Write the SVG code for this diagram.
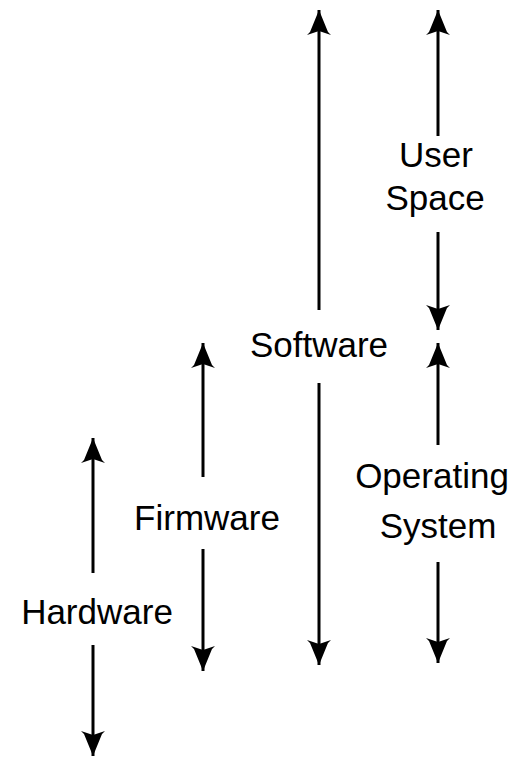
<svg xmlns="http://www.w3.org/2000/svg" width="512" height="760" viewBox="0 0 512 760">
  <style>
    .lbl { font-family: "Liberation Sans", Arial, sans-serif; font-size: 35px; fill: #000; text-anchor: middle; }
    .ln { stroke: #000; stroke-width: 3; fill: none; marker-end: url(#ah); }
  </style>
  <defs>
    <marker id="ah" viewBox="0 0 25 24" refX="25" refY="12" markerWidth="25" markerHeight="24" markerUnits="userSpaceOnUse" orient="auto">
      <path d="M0,0 L3,3 L25,12 L3,21 L0,24 L4,12 Z" fill="#000"/>
    </marker>
  </defs>
  <rect width="512" height="760" fill="#fff"/>
  <g id="connectors">
    <line class="ln" x1="93" y1="573" x2="93" y2="438"/>
    <line class="ln" x1="93" y1="645" x2="93" y2="756"/>
    <line class="ln" x1="203" y1="477" x2="203" y2="343"/>
    <line class="ln" x1="203" y1="549" x2="203" y2="671"/>
    <line class="ln" x1="319" y1="310" x2="319" y2="10"/>
    <line class="ln" x1="319" y1="383" x2="319" y2="665"/>
    <line class="ln" x1="438" y1="136" x2="438" y2="10"/>
    <line class="ln" x1="438" y1="232" x2="438" y2="330"/>
    <line class="ln" x1="438" y1="445" x2="438" y2="343"/>
    <line class="ln" x1="438" y1="562" x2="438" y2="663"/>
  </g>
  <g id="hardware"><text class="lbl" x="97" y="624">Hardware</text></g>
  <g id="firmware"><text class="lbl" x="207" y="530">Firmware</text></g>
  <g id="software"><text class="lbl" x="319" y="357">Software</text></g>
  <g id="user-space"><text class="lbl" x="436" y="167">User</text><text class="lbl" x="435" y="210">Space</text></g>
  <g id="operating-system"><text class="lbl" x="432" y="488">Operating</text><text class="lbl" x="438" y="538">System</text></g>
</svg>
